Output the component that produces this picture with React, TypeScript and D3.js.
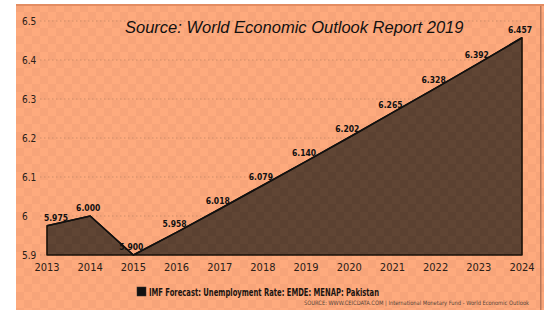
import React from "react";
import * as d3 from "d3";

// chart values
const years = ["2013", "2014", "2015", "2016", "2017", "2018", "2019", "2020", "2021", "2022", "2023", "2024"];
const rates = [5.975, 6.0, 5.9, 5.958, 6.018, 6.079, 6.14, 6.202, 6.265, 6.328, 6.392, 6.457];
const rateLabels = ["5.975", "6.000", "5.900", "5.958", "6.018", "6.079", "6.140", "6.202", "6.265", "6.328", "6.392", "6.457"];
const yTicks = [5.9, 6, 6.1, 6.2, 6.3, 6.4, 6.5];

const title = "Source: World Economic Outlook Report 2019";
const legendLabel = "IMF Forecast: Unemployment Rate: EMDE: MENAP: Pakistan";
const sourceLabel = "SOURCE: WWW.CEICDATA.COM | International Monetary Fund - World Economic Outlook";

const W = 544;
const H = 310;
const narrow = "'Liberation Sans Narrow', 'Arial Narrow', 'DejaVu Sans Condensed', sans-serif";

export default function App() {
  const x = d3.scalePoint<string>().domain(years).range([47, 522]);
  const y = d3.scaleLinear().domain([5.9, 6.5]).range([255, 21]);

  const data = years.map((yr, i) => ({ yr, v: rates[i] }));
  const area = d3
    .area<{ yr: string; v: number }>()
    .x((d) => x(d.yr) as number)
    .y0(y(5.9))
    .y1((d) => y(d.v));
  const line = d3
    .line<{ yr: string; v: number }>()
    .x((d) => x(d.yr) as number)
    .y((d) => y(d.v));

  return (
    <div style={{ position: "absolute", left: 0, top: 0 }}>
      <svg width={W} height={H} style={{ display: "block" }}>
        <defs>
          <pattern id="chk" width="16" height="16" patternUnits="userSpaceOnUse" x="16" y="4">
            <rect width="16" height="16" fill="#FEAA7D" />
            <rect width="8" height="8" fill="#F7A479" />
            <rect x="8" y="8" width="8" height="8" fill="#F7A479" />
          </pattern>
          <pattern id="chkDark" width="16" height="16" patternUnits="userSpaceOnUse" x="16" y="4">
            <rect width="16" height="16" fill="#604534" />
            <rect width="8" height="8" fill="#5B4131" />
            <rect x="8" y="8" width="8" height="8" fill="#5B4131" />
          </pattern>
        </defs>
        <rect x={0} y={0} width={W} height={H} fill="#ffffff" />
        <rect x={16} y={4} width={W - 16} height={H - 4} fill="url(#chk)" />
        <rect x={16} y={4} width={W - 16} height={2} fill="#E38D63" />
        <rect x={540} y={6} width={1.5} height={H - 6} fill="#B9785A" />

        {/* grid */}
        {yTicks.map((t) => (
          <line
            key={t}
            x1={40}
            x2={522}
            y1={y(t)}
            y2={y(t)}
            stroke="#CF8D68"
            strokeWidth={1}
            strokeDasharray="1.5,2.5"
          />
        ))}

        {/* area */}
        <path d={area(data) ?? ""} fill="url(#chkDark)" stroke="#1a1108" strokeWidth={1.6} strokeLinejoin="round" />
        <path d={line(data) ?? ""} fill="none" stroke="#111" strokeWidth={1.6} />

        {/* y axis labels */}
        {yTicks.map((t) => (
          <text
            key={t}
            x={22}
            y={y(t)}
            dy="0.35em"
            fontFamily={narrow}
            fontSize={10}
            fill="#2a2018"
          >
            {d3.format("~g")(t)}
          </text>
        ))}

        {/* x axis labels */}
        {years.map((yr) => (
          <text
            key={yr}
            x={x(yr) as number}
            y={271}
            textAnchor="middle"
            fontFamily={narrow}
            fontSize={11}
            fill="#2a2018"
          >
            {yr}
          </text>
        ))}

        {/* value labels */}
        {data.map((d, i) => (
          <text
            key={d.yr}
            x={(x(d.yr) as number) + (i === 0 ? 9 : -2)}
            y={y(d.v) - 5}
            textAnchor="middle"
            fontFamily={narrow}
            fontWeight="bold"
            fontSize={8.5}
            fill="#111"
          >
            {rateLabels[i]}
          </text>
        ))}

        <text
          x={125}
          y={33}
          fontFamily="'Liberation Sans', Arial, sans-serif"
          fontStyle="italic"
          fontSize={16.5}
          fill="#111"
        >
          {title}
        </text>

        {/* legend */}
        <rect x={137} y={287} width={9} height={9} fill="#111" stroke="#333" strokeWidth={0.5} />
        <text
          x={149}
          y={295.5}
          fontFamily={narrow}
          fontWeight="bold"
          fontSize={10}
          fill="#1a1410"
          textLength={230}
          lengthAdjust="spacingAndGlyphs"
        >
          {legendLabel}
        </text>
        <text
          x={304}
          y={305}
          fontFamily={narrow}
          fontSize={6}
          fill="#5a4638"
          textLength={225}
          lengthAdjust="spacingAndGlyphs"
        >
          {sourceLabel}
        </text>
      </svg>
    </div>
  );
}
